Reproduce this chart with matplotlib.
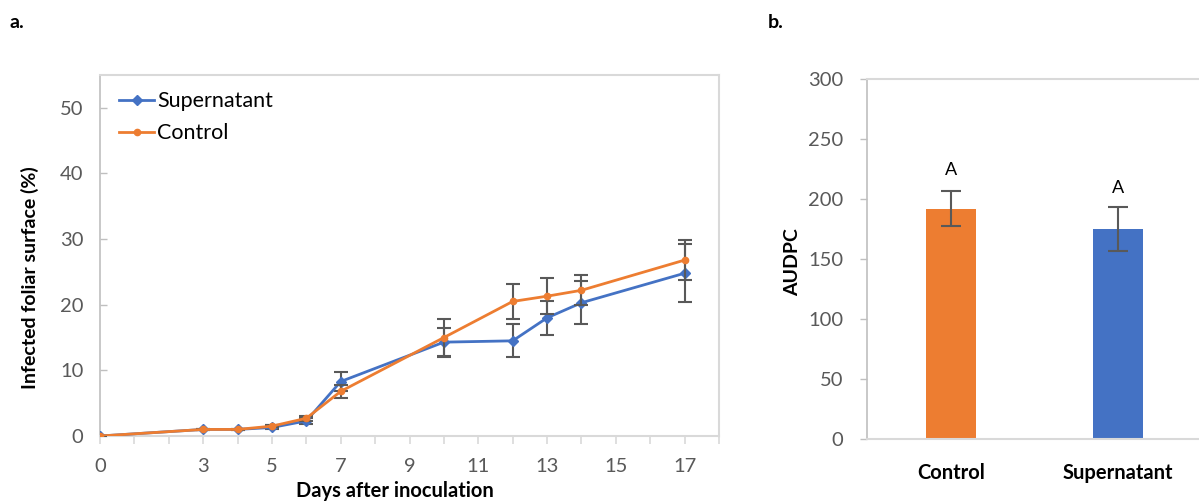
import matplotlib.pyplot as plt

# data
days = [0, 3, 4, 5, 6, 7, 10, 12, 13, 14, 17]
supernatant = [0, 1.0, 1.0, 1.3, 2.3, 8.3, 14.3, 14.5, 18.0, 20.3, 24.8]
supernatant_err = [0, 0.1, 0.1, 0.3, 0.5, 1.5, 2.2, 2.5, 2.6, 3.3, 4.4]
control = [0, 1.0, 1.0, 1.5, 2.7, 6.8, 15.0, 20.5, 21.3, 22.2, 26.8]
control_err = [0, 0.1, 0.1, 0.2, 0.4, 1.0, 2.8, 2.7, 2.7, 2.3, 3.0]

x_labels = [0, 3, 5, 7, 9, 11, 13, 15, 17]

groups = ['Control', 'Supernatant']
audpc = [192, 175]
audpc_err = [14.5, 18.5]
letters = ['A', 'A']
letter_y = [224, 209]

blue = '#4472C4'
orange = '#ED7D31'
grey_txt = '#595959'
err_col = '#595959'

plt.rcParams['font.family'] = ['Lato', 'DejaVu Sans']

W, H = 1199, 501
fig = plt.figure(figsize=(W / 100, H / 100), dpi=100)

# ---- panel a : disease progress ----
ax1 = fig.add_axes([100 / W, 1 - 436 / H, 619 / W, 361 / H])
ax1.errorbar(days, supernatant, yerr=supernatant_err, color=blue, lw=2,
             marker='D', ms=5, ecolor=err_col, elinewidth=1.5, capsize=5,
             capthick=1.5, label='Supernatant', zorder=3)
ax1.errorbar(days, control, yerr=control_err, color=orange, lw=2,
             marker='o', ms=4.5, ecolor=err_col, elinewidth=1.5, capsize=5,
             capthick=1.5, label='Control', zorder=4)

ax1.set_xlim(0, 18)
ax1.set_ylim(0, 55)
ax1.set_xticks(range(0, 19))
ax1.set_xticklabels([str(d) if d in x_labels else '' for d in range(0, 19)])
ax1.set_yticks(range(0, 51, 10))
ax1.tick_params(axis='x', direction='out', length=6, width=1.2, color='#D9D9D9',
                labelsize=14.5, labelcolor=grey_txt, pad=10)
ax1.tick_params(axis='y', direction='in', length=5, width=1, color='#BFBFBF',
                labelsize=14.5, labelcolor=grey_txt, pad=12)
for s in ['top', 'right']:
    ax1.spines[s].set_color('#D9D9D9')
    ax1.spines[s].set_linewidth(1.5)
ax1.spines['left'].set_color('#BFBFBF')
ax1.spines['left'].set_linewidth(1.2)
ax1.spines['bottom'].set_color('#D9D9D9')
ax1.spines['bottom'].set_linewidth(1.5)

handles, labels = ax1.get_legend_handles_labels()
handles = [h[0] for h in handles]
ax1.legend(handles, labels, loc='upper left', bbox_to_anchor=(0.0, 1.008),
           frameon=False, fontsize=15.5, handlelength=1.6, handletextpad=0.15,
           labelspacing=0.55, borderaxespad=0.5)

fig.text(395 / W, 1 - 491 / H, 'Days after inoculation', ha='center', va='center',
         fontsize=14.5, fontweight='bold')
fig.text(30 / W, 1 - 278 / H, 'Infected foliar surface (%)', ha='center', va='center',
         rotation=90, fontsize=14, fontweight='bold')
fig.text(9 / W, 1 - 22 / H, 'a.', ha='left', va='center', fontsize=14, fontweight='bold')

# ---- panel b : AUDPC ----
ax2 = fig.add_axes([867 / W, 1 - 439 / H, (W - 867 + 5) / W, 360 / H])
xpos = range(len(groups))
ax2.bar(xpos, audpc, width=0.3, color=[orange, blue], zorder=2)
ax2.errorbar(xpos, audpc, yerr=audpc_err, fmt='none', ecolor=err_col,
             elinewidth=1.5, capsize=7, capthick=1.5, zorder=3)
for i, t in enumerate(letters):
    ax2.text(i, letter_y[i], t, ha='center', va='center', fontsize=13)

ax2.set_xlim(-0.503, 1.515)
ax2.set_ylim(0, 300)
ax2.set_yticks(range(0, 301, 50))
ax2.set_xticks(list(xpos))
ax2.set_xticklabels(groups, fontsize=14.5, fontweight='bold')
ax2.tick_params(axis='x', length=0, pad=17)
ax2.tick_params(axis='y', direction='out', length=5, width=1, color='#BFBFBF',
                labelsize=14.5, labelcolor=grey_txt, pad=12)
for s in ['top', 'right']:
    ax2.spines[s].set_color('#D9D9D9')
    ax2.spines[s].set_linewidth(1.5)
ax2.spines['left'].set_color('#BFBFBF')
ax2.spines['left'].set_linewidth(1.2)
ax2.spines['bottom'].set_color('#D9D9D9')
ax2.spines['bottom'].set_linewidth(1.5)

fig.text(793 / W, 1 - 262 / H, 'AUDPC', ha='center', va='center', rotation=90,
         fontsize=14, fontweight='bold')
fig.text(768 / W, 1 - 22 / H, 'b.', ha='left', va='center', fontsize=14, fontweight='bold')

fig.savefig('out.png', dpi=100)
